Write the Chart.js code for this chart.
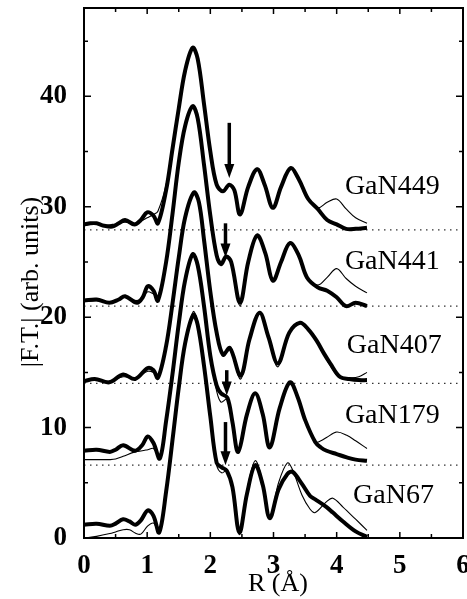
<!DOCTYPE html>
<html>
<head>
<meta charset="utf-8">
<script src="https://cdn.jsdelivr.net/npm/chart.js@4/dist/chart.umd.min.js"></script>
<style>
  html, body { margin: 0; padding: 0; background: #fff; }
</style>
</head>
<body>
<canvas id="ftChart" width="467" height="599"></canvas>
<script>
// R grids (Angstrom) and |F.T.| values per sample: exp = thick line, fit = thin line
const r449 = [0, 0.1, 0.2, 0.3, 0.45, 0.55, 0.65, 0.8, 0.9, 1.0, 1.1, 1.17, 1.3, 1.4, 1.5, 1.6, 1.72, 1.8, 1.9, 2.0, 2.1, 2.2, 2.3, 2.38, 2.47, 2.6, 2.74, 2.86, 2.99, 3.12, 3.27, 3.4, 3.55, 3.7, 3.85, 4.0, 4.15, 4.3, 4.48];
const exp449 = [28.4, 28.5, 28.5, 28.3, 28.2, 28.5, 28.8, 28.4, 28.8, 29.5, 29.2, 28.5, 31.5, 35.2, 38.9, 42.3, 44.4, 43.4, 39.3, 35.0, 32.0, 31.4, 32.0, 31.5, 29.3, 31.8, 33.4, 32.0, 29.9, 31.8, 33.5, 32.5, 30.7, 29.8, 28.8, 28.4, 28.0, 28.0, 28.1];
const fit449 = [28.3, 28.4, 28.4, 28.3, 28.4, 28.5, 28.6, 28.5, 28.7, 29.0, 29.3, 29.6, 32.0, 35.4, 39.0, 42.3, 44.4, 43.4, 39.3, 35.0, 32.0, 31.4, 32.0, 31.5, 29.3, 31.8, 33.5, 32.0, 29.9, 31.8, 33.6, 32.5, 30.7, 29.9, 30.4, 30.7, 29.8, 29.0, 28.5];

const r441 = [0, 0.2, 0.4, 0.55, 0.65, 0.84, 0.93, 1.01, 1.1, 1.17, 1.3, 1.4, 1.5, 1.6, 1.72, 1.8, 1.9, 2.0, 2.1, 2.17, 2.25, 2.33, 2.47, 2.6, 2.74, 2.87, 2.99, 3.12, 3.26, 3.4, 3.53, 3.7, 3.85, 4.0, 4.15, 4.3, 4.48];
const exp441 = [21.5, 21.6, 21.3, 21.6, 21.9, 21.3, 21.8, 22.8, 22.4, 21.5, 25.0, 29.3, 34.0, 37.3, 39.1, 38.0, 33.8, 29.2, 25.6, 24.8, 25.5, 25.0, 21.3, 25.0, 27.4, 25.8, 23.3, 25.0, 26.7, 25.6, 23.6, 22.7, 22.4, 21.8, 21.0, 21.3, 21.0];
const fit441 = [21.4, 21.5, 21.4, 21.6, 21.8, 21.5, 21.8, 22.3, 22.1, 21.9, 25.0, 29.3, 34.0, 37.3, 39.1, 38.0, 33.8, 29.2, 25.6, 24.8, 25.5, 25.0, 21.0, 25.0, 27.5, 25.8, 23.3, 25.0, 26.8, 25.6, 23.6, 22.9, 23.6, 24.4, 23.5, 22.8, 22.2];

const r407 = [0, 0.17, 0.4, 0.62, 0.81, 1.01, 1.1, 1.17, 1.3, 1.4, 1.5, 1.6, 1.74, 1.82, 1.9, 2.0, 2.1, 2.2, 2.31, 2.48, 2.62, 2.78, 2.92, 3.07, 3.25, 3.42, 3.55, 3.68, 3.8, 3.9, 4.05, 4.2, 4.35, 4.48];
const exp407 = [14.2, 14.4, 14.1, 14.8, 14.4, 15.4, 15.2, 14.5, 17.4, 21.2, 25.4, 29.0, 31.3, 30.4, 27.0, 22.3, 18.6, 16.6, 17.2, 14.7, 18.0, 20.4, 18.2, 15.8, 18.6, 19.5, 18.9, 17.9, 16.7, 15.8, 14.6, 14.4, 14.3, 14.3];
const fit407 = [14.3, 14.3, 14.2, 14.6, 14.5, 15.1, 15.0, 14.7, 17.4, 21.2, 25.4, 29.0, 31.3, 30.4, 27.0, 22.3, 18.6, 16.6, 17.1, 14.4, 18.0, 20.5, 18.2, 15.5, 18.6, 19.4, 18.9, 17.9, 16.6, 15.6, 14.5, 14.5, 14.6, 15.0];

const r179 = [0, 0.2, 0.41, 0.5, 0.62, 0.81, 0.92, 1.01, 1.1, 1.2, 1.3, 1.4, 1.5, 1.6, 1.72, 1.8, 1.9, 2.0, 2.1, 2.17, 2.27, 2.35, 2.44, 2.58, 2.71, 2.83, 2.94, 3.1, 3.26, 3.38, 3.5, 3.66, 3.75, 3.84, 4.0, 4.16, 4.3, 4.48];
const exp179 = [7.9, 8.0, 7.8, 8.0, 8.4, 7.9, 8.4, 9.2, 8.6, 7.2, 10.6, 14.8, 19.4, 23.3, 25.7, 24.7, 21.0, 16.5, 13.8, 13.1, 12.7, 10.5, 7.8, 11.2, 13.1, 11.2, 8.2, 11.8, 14.1, 12.8, 10.7, 8.7, 8.2, 7.9, 7.6, 7.3, 7.1, 7.0];
const fit179 = [7.1, 7.1, 7.1, 7.15, 7.4, 7.8, 7.9, 8.0, 8.1, 7.3, 10.6, 14.8, 19.4, 23.3, 25.8, 24.7, 21.0, 16.5, 13.3, 12.3, 12.6, 10.5, 7.8, 11.2, 13.1, 11.2, 8.2, 11.8, 14.1, 12.8, 10.7, 8.7, 8.8, 9.1, 9.6, 9.3, 8.8, 8.1];

const r67 = [0, 0.2, 0.41, 0.5, 0.62, 0.72, 0.81, 0.9, 1.01, 1.1, 1.19, 1.3, 1.41, 1.5, 1.6, 1.73, 1.8, 1.9, 2.0, 2.1, 2.18, 2.26, 2.35, 2.46, 2.58, 2.71, 2.83, 2.94, 3.08, 3.22, 3.3, 3.45, 3.58, 3.66, 3.84, 3.94, 4.1, 4.3, 4.48];
const exp67 = [1.2, 1.3, 1.1, 1.3, 1.7, 1.5, 1.2, 1.6, 2.5, 2.0, 0.5, 4.2, 9.3, 13.6, 17.6, 20.2, 19.3, 15.6, 11.0, 6.8, 6.4, 6.1, 4.6, 0.5, 4.0, 6.6, 4.8, 1.8, 4.4, 5.8, 6.0, 4.9, 3.8, 3.5, 2.8, 2.3, 1.5, 0.6, 0.1];
const fit67 = [0.0, 0.15, 0.4, 0.55, 0.75, 0.75, 0.45, 0.35, 1.1, 1.35, 0.5, 4.2, 9.3, 13.6, 17.7, 20.5, 19.5, 15.6, 11.0, 6.6, 5.9, 6.1, 4.6, 0.3, 4.3, 7.0, 5.0, 1.8, 5.0, 6.8, 6.2, 3.9, 2.6, 2.3, 3.3, 3.6, 2.8, 1.7, 0.7];

const samples = ['GaN449', 'GaN441', 'GaN407', 'GaN179', 'GaN67'];
const baselines = [27.9, 21.0, 14.0, 6.6];

// arrows: R position, start value, tip value
const arrowR = [2.30, 2.24, 2.26, 2.24];
const arrowFrom = [37.6, 28.5, 15.2, 10.5];
const arrowTo = [32.6, 25.4, 12.9, 6.6];

// sample label anchors (left edge R, baseline value)
const labelR = [4.13, 4.13, 4.16, 4.13, 4.26];
const labelY = [31.2, 24.4, 16.8, 10.4, 3.2];

const xTicks = [0, 1, 2, 3, 4, 5, 6];
const yTicks = [0, 10, 20, 30, 40];

const serif = '"Liberation Serif", "DejaVu Serif", serif';

function pts(r, v) {
    return r.map((x, i) => ({ x: x, y: v[i] }));
}

const curves = [
    [r449, exp449, fit449],
    [r441, exp441, fit441],
    [r407, exp407, fit407],
    [r179, exp179, fit179],
    [r67, exp67, fit67]
];

const datasets = [];
curves.forEach((c, i) => {
    datasets.push({
        label: samples[i] + ' fit',
        data: pts(c[0], c[2]),
        borderColor: '#000',
        borderWidth: 1.1,
        pointRadius: 0,
        tension: 0.35
    });
    datasets.push({
        label: samples[i],
        data: pts(c[0], c[1]),
        borderColor: '#000',
        borderWidth: 4,
        pointRadius: 0,
        tension: 0.35
    });
});
baselines.forEach(b => {
    datasets.push({
        label: 'base',
        data: [{ x: 0, y: b }, { x: 6, y: b }],
        borderColor: '#333',
        borderWidth: 1.3,
        borderDash: [1.5, 4.5],
        pointRadius: 0,
        tension: 0
    });
});

const decor = {
    id: 'decor',
    afterDraw(chart) {
        const ctx = chart.ctx;
        const a = chart.chartArea;
        const x = chart.scales.x;
        const y = chart.scales.y;
        ctx.save();
        ctx.strokeStyle = '#000';
        ctx.fillStyle = '#000';

        // frame
        ctx.lineWidth = 2;
        ctx.strokeRect(a.left, a.top, a.right - a.left, a.bottom - a.top);

        // inward ticks
        ctx.lineWidth = 1.5;
        ctx.beginPath();
        for (let v = 0.5; v < 6; v += 0.5) {
            const px = x.getPixelForValue(v);
            const len = Number.isInteger(v) ? 6 : 4;
            ctx.moveTo(px, a.bottom); ctx.lineTo(px, a.bottom - len);
            ctx.moveTo(px, a.top); ctx.lineTo(px, a.top + len);
        }
        for (let v = 5; v < 48; v += 5) {
            const py = y.getPixelForValue(v);
            const len = v % 10 === 0 ? 7 : 4;
            ctx.moveTo(a.left, py); ctx.lineTo(a.left + len, py);
            ctx.moveTo(a.right, py); ctx.lineTo(a.right - len, py);
        }
        ctx.stroke();

        // arrows
        arrowR.forEach((r, i) => {
            const px = x.getPixelForValue(r);
            const top = y.getPixelForValue(arrowFrom[i]);
            const tip = y.getPixelForValue(arrowTo[i]);
            const head = 14;
            ctx.lineWidth = 3.5;
            ctx.beginPath();
            ctx.moveTo(px, top);
            ctx.lineTo(px, tip - head + 2);
            ctx.stroke();
            ctx.beginPath();
            ctx.moveTo(px - 5, tip - head);
            ctx.lineTo(px + 5, tip - head);
            ctx.lineTo(px, tip);
            ctx.closePath();
            ctx.fill();
        });

        // sample labels
        ctx.font = '28px ' + serif;
        ctx.textAlign = 'left';
        ctx.textBaseline = 'alphabetic';
        samples.forEach((s, i) => {
            ctx.fillText(s, x.getPixelForValue(labelR[i]), y.getPixelForValue(labelY[i]));
        });

        // axis titles
        ctx.font = '26px ' + serif;
        ctx.textAlign = 'center';
        ctx.fillText('R (Å)', 278, 591);
        ctx.translate(38, 282);
        ctx.rotate(-Math.PI / 2);
        ctx.fillText('|F.T.| (arb. units)', 0, 0);
        ctx.restore();
    }
};

const ctx = document.getElementById('ftChart').getContext('2d');
const ftChart = new Chart(ctx, {
    type: 'line',
    data: { datasets: datasets },
    options: {
        responsive: false,
        animation: false,
        layout: { padding: { top: 8, right: 4, left: 0, bottom: 0 } },
        plugins: {
            legend: { display: false },
            tooltip: { enabled: false }
        },
        scales: {
            x: {
                type: 'linear',
                min: 0,
                max: 6,
                grid: { display: false },
                border: { display: false },
                afterBuildTicks(s) { s.ticks = xTicks.map(v => ({ value: v })); },
                afterFit(s) { s.height = 61; s.paddingLeft = 0; s.paddingRight = 0; },
                ticks: {
                    color: '#000',
                    padding: 4,
                    maxRotation: 0,
                    autoSkip: false,
                    font: { family: serif, size: 27, weight: 'bold' }
                }
            },
            y: {
                type: 'linear',
                min: 0,
                max: 48,
                grid: { display: false },
                border: { display: false },
                afterBuildTicks(s) { s.ticks = yTicks.map(v => ({ value: v })); },
                afterFit(s) { s.width = 84; s.paddingTop = 0; s.paddingBottom = 0; },
                ticks: {
                    color: '#000',
                    padding: 9,
                    autoSkip: false,
                    font: { family: serif, size: 27, weight: 'bold' }
                }
            }
        }
    },
    plugins: [decor]
});
</script>
</body>
</html>
